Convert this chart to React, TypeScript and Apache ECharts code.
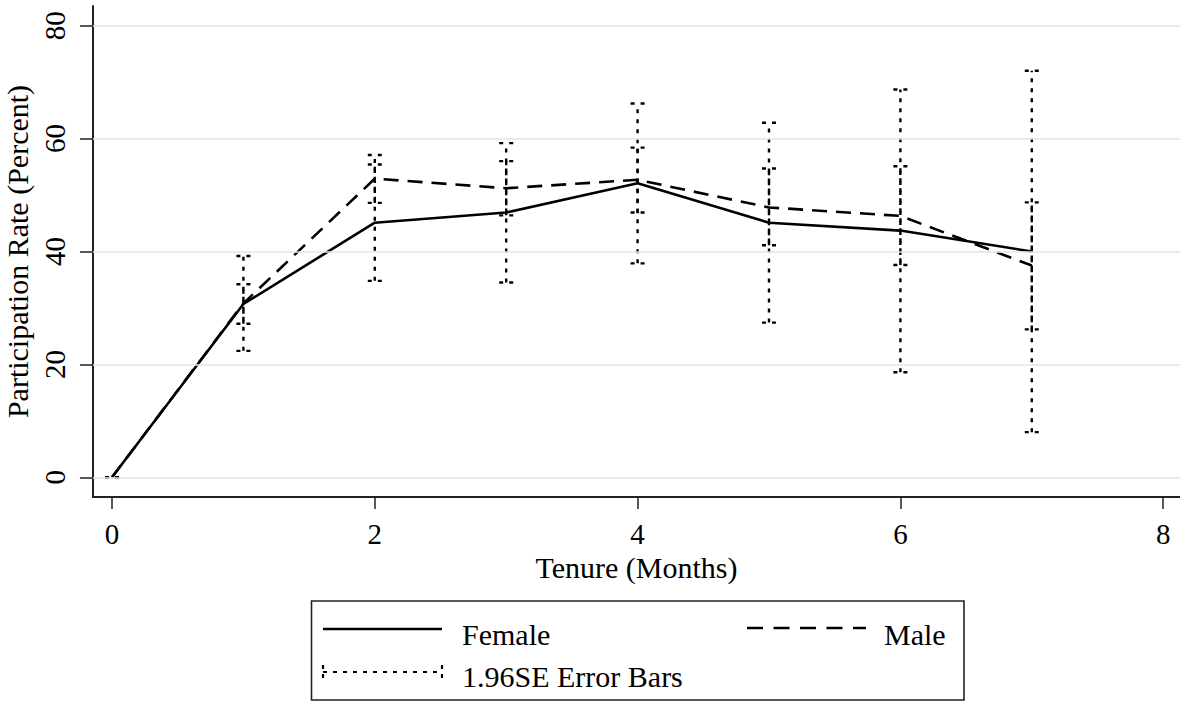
import React, { useEffect, useRef } from "react";
import * as echarts from "echarts";

const tenure = [0, 1, 2, 3, 4, 5, 6, 7];
const female = [0, 30.7, 45.1, 46.9, 52.1, 45.1, 43.7, 40.0];
const male = [0, 30.8, 52.9, 51.2, 52.7, 47.8, 46.3, 37.5];
const femaleLow = [0, 27.2, 34.8, 34.5, 37.9, 27.4, 18.6, 8.0];
const femaleHigh = [0, 34.2, 55.4, 59.2, 66.2, 62.8, 68.7, 72.0];
const maleLow = [0, 22.4, 48.6, 46.4, 46.9, 41.1, 37.6, 26.2];
const maleHigh = [0, 39.2, 57.1, 56.0, 58.4, 54.7, 55.1, 48.7];
const xTicks = [0, 2, 4, 6, 8];
const yTicks = [0, 20, 40, 60, 80];

const FONT = "Liberation Serif";

export default function App() {
  const ref = useRef<HTMLDivElement>(null);

  useEffect(() => {
    if (!ref.current) return;
    const chart = echarts.init(ref.current, null, { renderer: "svg" });

    const errStyle = { stroke: "#000", lineWidth: 2.4, lineDash: [4, 6], fill: "none" };
    const renderErr = (params: any, api: any) => {
      const x = api.value(0);
      const lo = api.coord([x, api.value(1)]);
      const hi = api.coord([x, api.value(2)]);
      const hw = 7;
      return {
        type: "group",
        children: [
          { type: "line", shape: { x1: lo[0], y1: lo[1], x2: hi[0], y2: hi[1] }, style: errStyle },
          { type: "line", shape: { x1: lo[0] - hw, y1: lo[1], x2: lo[0] + hw, y2: lo[1] }, style: errStyle },
          { type: "line", shape: { x1: hi[0] - hw, y1: hi[1], x2: hi[0] + hw, y2: hi[1] }, style: errStyle },
        ],
      };
    };

    const tickText = { fontFamily: FONT, fontSize: 29, color: "#000" };
    const titleText = { fontFamily: FONT, fontSize: 30, color: "#000" };

    chart.setOption({
      animation: false,
      backgroundColor: "#fff",
      textStyle: { fontFamily: FONT },
      grid: { left: 93, right: 0, top: 6, bottom: 205, containLabel: false, outerBoundsMode: "none" },
      xAxis: {
        type: "value",
        min: -0.1446,
        max: 8.128,
        name: "Tenure (Months)",
        nameLocation: "middle",
        nameGap: 51,
        nameTextStyle: titleText,
        axisLine: { show: true, onZero: false, lineStyle: { color: "#222", width: 2 } },
        axisTick: { show: true, customValues: xTicks, length: 12, lineStyle: { color: "#222", width: 1.5 } },
        axisLabel: { customValues: xTicks, margin: 22, ...tickText },
        splitLine: { show: false },
      },
      yAxis: {
        type: "value",
        min: -3.49,
        max: 83.48,
        name: "Participation Rate (Percent)",
        nameLocation: "middle",
        nameGap: 59,
        nameTextStyle: titleText,
        axisLine: { show: true, onZero: false, lineStyle: { color: "#222", width: 2 } },
        axisTick: { show: true, customValues: yTicks, length: 13, lineStyle: { color: "#222", width: 1.5 } },
        axisLabel: { customValues: yTicks, rotate: 90, margin: 24, ...tickText },
        splitLine: { show: false },
      },
      series: [
        {
          type: "line",
          name: "grid",
          data: [],
          z: 1,
          silent: true,
          markLine: {
            silent: true,
            symbol: ["none", "none"],
            label: { show: false },
            lineStyle: { color: "#e4e4e4", width: 1.5, type: "solid" },
            emphasis: { disabled: true },
            data: yTicks.map((v) => ({ yAxis: v })),
          },
        },
        {
          type: "custom",
          name: "Female CI",
          z: 2,
          renderItem: renderErr,
          encode: { x: 0, y: [1, 2] },
          data: tenure.map((t, i) => [t, femaleLow[i], femaleHigh[i]]),
        },
        {
          type: "custom",
          name: "Male CI",
          z: 2,
          renderItem: renderErr,
          encode: { x: 0, y: [1, 2] },
          data: tenure.map((t, i) => [t, maleLow[i], maleHigh[i]]),
        },
        {
          type: "line",
          name: "Female",
          z: 3,
          symbol: "none",
          lineStyle: { color: "#000", width: 2.6, type: "solid" },
          data: tenure.map((t, i) => [t, female[i]]),
        },
        {
          type: "line",
          name: "Male",
          z: 3,
          symbol: "none",
          lineStyle: { color: "#000", width: 2.6, type: [15, 9] },
          data: tenure.map((t, i) => [t, male[i]]),
        },
      ],
      graphic: [
        {
          type: "rect",
          shape: { x: 311.5, y: 601, width: 652.5, height: 99 },
          style: { fill: "none", stroke: "#222", lineWidth: 1.6 },
        },
        {
          type: "line",
          shape: { x1: 323, y1: 629, x2: 442, y2: 629 },
          style: { stroke: "#000", lineWidth: 2.6 },
        },
        {
          type: "line",
          shape: { x1: 747, y1: 628, x2: 866, y2: 628 },
          style: { stroke: "#000", lineWidth: 2.6, lineDash: [16, 10.5] },
        },
        {
          type: "line",
          shape: { x1: 323, y1: 672, x2: 442, y2: 672 },
          style: { stroke: "#000", lineWidth: 2.2, lineDash: [4, 6] },
        },
        {
          type: "line",
          shape: { x1: 323, y1: 665, x2: 323, y2: 679 },
          style: { stroke: "#000", lineWidth: 2.2, lineDash: [4, 5] },
        },
        {
          type: "line",
          shape: { x1: 442, y1: 665, x2: 442, y2: 679 },
          style: { stroke: "#000", lineWidth: 2.2, lineDash: [4, 5] },
        },
        {
          type: "text",
          x: 462,
          y: 634,
          style: { text: "Female", font: `30px '${FONT}'`, fill: "#000", textVerticalAlign: "middle", verticalAlign: "middle" },
        },
        {
          type: "text",
          x: 884,
          y: 634,
          style: { text: "Male", font: `30px '${FONT}'`, fill: "#000", textVerticalAlign: "middle", verticalAlign: "middle" },
        },
        {
          type: "text",
          x: 462,
          y: 676,
          style: { text: "1.96SE Error Bars", font: `30px '${FONT}'`, fill: "#000", textVerticalAlign: "middle", verticalAlign: "middle" },
        },
      ],
    });

    return () => chart.dispose();
  }, []);

  return (
    <div
      ref={ref}
      style={{ position: "fixed", left: 0, top: 0, width: 1180, height: 702, background: "#fff" }}
    />
  );
}
